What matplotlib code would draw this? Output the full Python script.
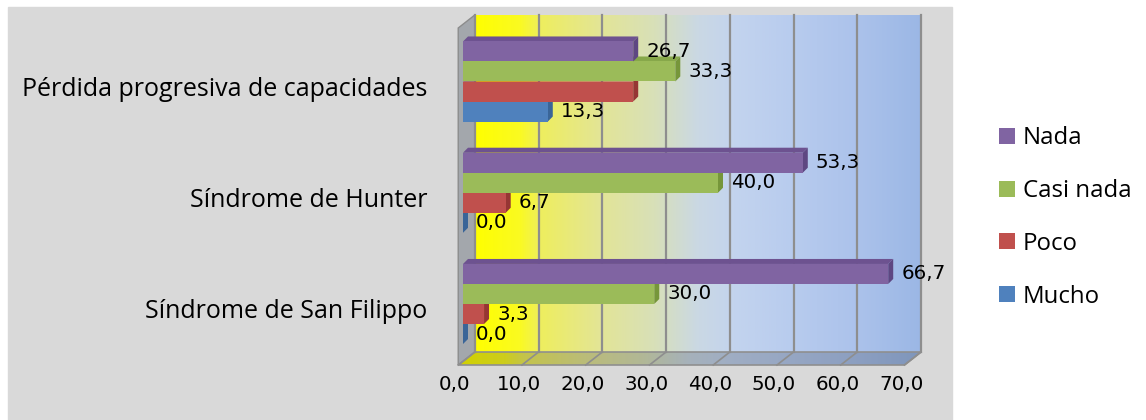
import numpy as np
import matplotlib
matplotlib.use("Agg")
import matplotlib.pyplot as plt
from matplotlib.patches import Polygon, Rectangle, Patch
from matplotlib.colors import to_rgb

# Data: percentage per category, one list per answer level
categories = ["Síndrome de San Filippo", "Síndrome de Hunter", "Pérdida progresiva de capacidades"]
series_names = ["Nada", "Casi nada", "Poco", "Mucho"]
nada = [66.7, 53.3, 26.7]
casi_nada = [30.0, 40.0, 33.3]
poco = [3.3, 6.7, 26.7]
mucho = [0.0, 0.0, 13.3]
# which value labels are shown (the Poco bar of the last category has none)
show_poco = [True, True, False]
x_ticks = [0, 10, 20, 30, 40, 50, 60, 70]

colors = ["#8064a2", "#9bbb59", "#c0504d", "#4f81bd"]
side_colors = ["#5e4782", "#76963a", "#963634", "#3a6598"]
top_colors = ["#6d5290", "#87a84a", "#ac413e", "#4571a8"]

plt.rcParams["font.family"] = ["Open Sans", "DejaVu Sans"]

W, H = 1146, 420
fig = plt.figure(figsize=(W / 100, H / 100), dpi=100, facecolor="white")

# grey chart area, white strip on the right holds the legend
fig.patches.append(Rectangle((8 / W, 0), (952 - 8) / W, (H - 7) / H,
                             transform=fig.transFigure, color="#d9d9d9", zorder=-5))

# axes: x in percent (front bar plane at px 463, 6.375 px per unit),
# y in category units (111.25 px between groups)
PX, PY = 6.375, 111.25
X0_PX, Y0_PX = 463, 304
ax_l, ax_r, ax_t, ax_b = 440, 945, 5, 372
ax = fig.add_axes([ax_l / W, 1 - ax_b / H, (ax_r - ax_l) / W, (ax_b - ax_t) / H])
ax.set_zorder(1)
xlim = ((ax_l - X0_PX) / PX, (ax_r - X0_PX) / PX)
ylim = ((Y0_PX - ax_b) / PY, (Y0_PX - ax_t) / PY)

# 3D box geometry
FLOOR_X0 = -0.75          # front edge of floor at 0
WALL_DX = 2.6             # depth of the box in x
WALL_DY = 13 / PY         # depth of the box in y
BACK_X0 = FLOOR_X0 + WALL_DX
WALL_BOTTOM = (Y0_PX - 352) / PY
WALL_TOP = (Y0_PX - 15) / PY
XMAX = 70


def gradient(stops, n=400):
    pos = [s[0] for s in stops]
    rgb = np.array([to_rgb(s[1]) for s in stops])
    t = np.linspace(0, 1, n)
    return np.stack([np.interp(t, pos, rgb[:, i]) for i in range(3)], axis=-1)[None, :, :]


wall_stops = [(0.0, "#ffff00"), (0.10, "#fafa22"), (0.145, "#eeee5e"), (0.28, "#e3e596"),
              (0.40, "#d8e0b8"), (0.50, "#cad8e4"), (0.58, "#c3d4ee"), (0.72, "#b7cbee"),
              (0.86, "#abc2eb"), (1.0, "#9bb7e5")]
wall = gradient(wall_stops)
ax.imshow(wall, extent=[BACK_X0, BACK_X0 + XMAX, WALL_BOTTOM, WALL_TOP],
          aspect="auto", zorder=1, interpolation="bilinear")

# floor with a darker copy of the gradient
floor_poly = Polygon([(FLOOR_X0, WALL_BOTTOM - WALL_DY), (FLOOR_X0 + XMAX, WALL_BOTTOM - WALL_DY),
                      (BACK_X0 + XMAX, WALL_BOTTOM), (BACK_X0, WALL_BOTTOM)],
                     closed=True, facecolor="none", edgecolor="#8f8f8f", lw=1.2, zorder=2)
ax.add_patch(floor_poly)
floor_img = ax.imshow(wall * 0.82, extent=[FLOOR_X0, BACK_X0 + XMAX, WALL_BOTTOM - WALL_DY, WALL_BOTTOM],
                      aspect="auto", zorder=1.5, interpolation="bilinear")
floor_img.set_clip_path(floor_poly)

# left side wall
ax.add_patch(Polygon([(FLOOR_X0, WALL_BOTTOM - WALL_DY), (BACK_X0, WALL_BOTTOM),
                      (BACK_X0, WALL_TOP), (FLOOR_X0, WALL_TOP - WALL_DY)],
                     closed=True, facecolor="#a3a7ac", edgecolor="#8c8c8c", lw=1.0, zorder=2))

# gridlines on back wall and floor
for t in x_ticks:
    ax.plot([BACK_X0 + t, BACK_X0 + t], [WALL_BOTTOM, WALL_TOP], color="#8e8e8e", lw=1.6, zorder=2)
    ax.plot([BACK_X0 + t, FLOOR_X0 + t], [WALL_BOTTOM, WALL_BOTTOM - WALL_DY],
            color="#8e8e8e", lw=1.2, zorder=2)

# bars
BAR_H = 20 / PY
BAR_DX = 5 / PX
BAR_DY = 5 / PY
offsets = [0.27, 0.09, -0.09, -0.27]
values = [nada, casi_nada, poco, mucho]
y_pos = np.arange(len(categories))

for s in [3, 2, 1, 0]:
    ys = y_pos + offsets[s]
    z = 3 + (3 - s)
    for v, y in zip(values[s], ys):
        top = y + BAR_H / 2
        bot = y - BAR_H / 2
        ax.add_patch(Polygon([(0, top), (v, top), (v + BAR_DX, top + BAR_DY), (BAR_DX, top + BAR_DY)],
                             closed=True, facecolor=top_colors[s], edgecolor="none", zorder=z))
        ax.add_patch(Polygon([(v, bot), (v + BAR_DX, bot + BAR_DY), (v + BAR_DX, top + BAR_DY), (v, top)],
                             closed=True, facecolor=side_colors[s], edgecolor="none", zorder=z))
    ax.barh(ys, values[s], height=BAR_H, left=0, color=colors[s], edgecolor="none", zorder=z + 0.5)

# value labels
LABEL_DX = 13 / PX
for s in range(4):
    for i, (v, y) in enumerate(zip(values[s], y_pos + offsets[s])):
        if s == 2 and not show_poco[i]:
            continue
        ax.text(v + LABEL_DX, y, f"{v:.1f}".replace(".", ","), family="DejaVu Sans",
                fontsize=14.3, va="center", ha="left", color="black", zorder=10)

# category labels
for y, name in zip(y_pos, categories):
    ax.text((427 - X0_PX) / PX, y - 14.5 / PY, name, ha="right", va="baseline",
            fontsize=18, color="black", clip_on=False)

# x tick labels under the floor
for t in x_ticks:
    ax.text(t - 8 / PX, (Y0_PX - 385) / PY, f"{t:.1f}".replace(".", ","), family="DejaVu Sans",
            fontsize=14.3, ha="center", va="center", clip_on=False)

ax.set_xlim(*xlim)
ax.set_ylim(*ylim)
ax.set_aspect("auto")
ax.axis("off")

handles = [Patch(facecolor=c, edgecolor="none") for c in colors]
fig.legend(handles, series_names, loc="center left", bbox_to_anchor=(999 / W, 1 - 217.5 / H),
           frameon=False, fontsize=17.3, handlelength=0.65, handleheight=0.65,
           handletextpad=0.35, labelspacing=1.2, borderpad=0, borderaxespad=0)

fig.savefig("out.png", dpi=100, facecolor=fig.get_facecolor())
